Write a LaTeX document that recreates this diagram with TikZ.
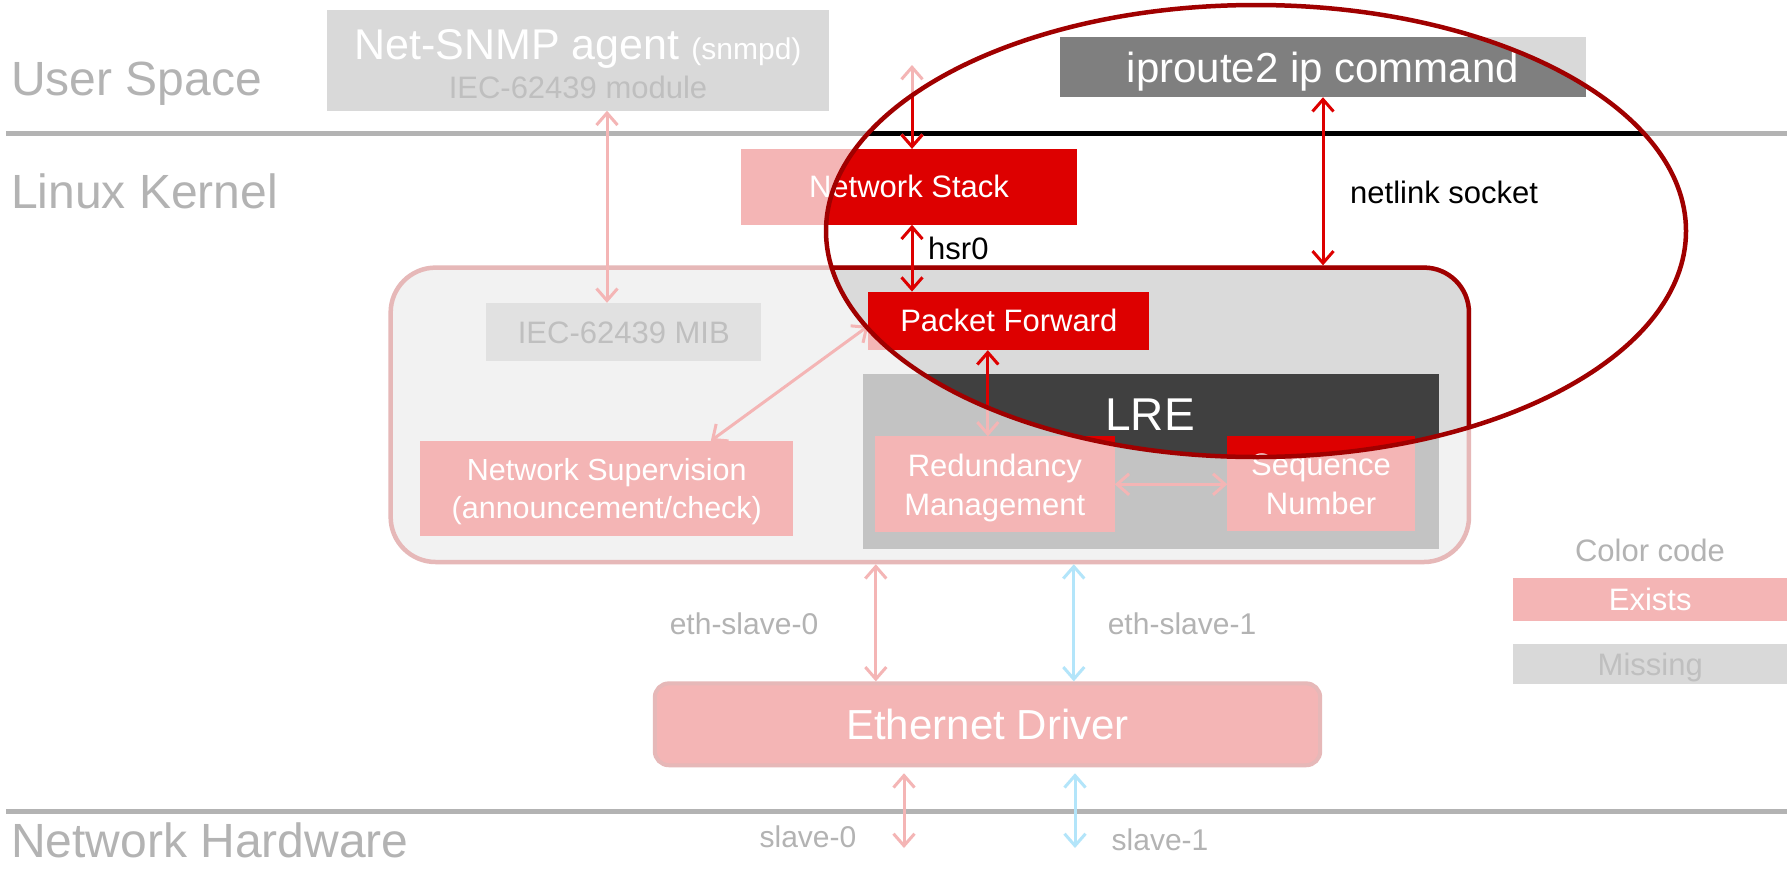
\documentclass[tikz,border=0pt]{standalone}
\usepackage{fontspec}
\setmainfont{Liberation Sans}
\usetikzlibrary{arrows.meta}
\pgfdeclarelayer{bglayer}
\pgfdeclarelayer{hllayer}
\pgfsetlayers{bglayer,hllayer,main}
\definecolor{cPink}{HTML}{F4B5B5}
\definecolor{cPinkB}{HTML}{E6B8B8}
\definecolor{cRed}{HTML}{DD0000}
\definecolor{cDRed}{HTML}{A00000}
\definecolor{cGrayTxt}{HTML}{B3B3B3}
\definecolor{cBoxGray}{HTML}{D9D9D9}
\definecolor{cMib}{HTML}{E1E1E1}
\definecolor{cMibTxt}{HTML}{BFBFBF}
\definecolor{cKern}{HTML}{F2F2F2}
\definecolor{cKernHL}{HTML}{DADADA}
\definecolor{cLre}{HTML}{C3C3C3}
\definecolor{cLreHL}{HTML}{404040}
\definecolor{cIpHL}{HTML}{7F7F7F}
\definecolor{cBlue}{HTML}{B3E5FA}
\newcommand\myfH{\fontsize{48}{56}\selectfont}
\newcommand\myfB{\fontsize{43}{50}\selectfont}
\newcommand\myfL{\fontsize{42}{50}\selectfont}
\newcommand\myfLRE{\fontsize{46}{54}\selectfont}
\newcommand\myfM{\fontsize{31}{39}\selectfont}
\newcommand\myfN{\fontsize{30.5}{38.5}\selectfont}
\newcommand\myfS{\fontsize{30}{36}\selectfont}
\begin{document}
\begin{tikzpicture}[x=1pt,y=-1pt,
  bx/.style={rectangle, inner sep=0pt, text=white},
  one/.style={font=\myfM, text height=22pt, text depth=0pt},
  onel/.style={font=\myfL, text height=30pt, text depth=0pt},
  two/.style={align=center, text depth=0pt},
  lblg/.style={inner sep=0pt, text=cGrayTxt},
  dbl/.style={line width=3pt, {Straight Barb[length=12pt,width=21pt]}-{Straight Barb[length=12pt,width=21pt]}},
  sep/.style={line width=5pt},
]
\useasboundingbox (0,0) rectangle (1787,868);

% ---------- box nodes ----------
\node[bx, minimum width=502pt, minimum height=100.5pt] (snmp) at (578,60.3) {};
\node[anchor=base, inner sep=0pt, text=white, font=\myfB] (snmpa) at (578,59) {Net-SNMP agent {\myfS(snmpd)}};
\node[anchor=base, inner sep=0pt, text=cMibTxt, font=\myfM] (snmpb) at (578,98) {IEC-62439 module};
\node[bx, onel, minimum width=526pt, minimum height=59.4pt] (iproute) at (1323,67.3) {iproute2 ip command};
\node[bx, one, minimum width=336pt, minimum height=75.5pt] (nstack) at (909,186.8) {Network Stack};
\node[bx, minimum width=1082.4pt, minimum height=298.5pt] (kern) at (929.8,414.8) {};
\node[bx, one, text=cMibTxt, minimum width=274.4pt, minimum height=58pt] (mib) at (623.8,332) {IEC-62439 MIB};
\node[bx, one, minimum width=280.5pt, minimum height=58.2pt] (pf) at (1008.8,320.9) {Packet Forward};
\node[bx, minimum width=575.7pt, minimum height=174.7pt] (lre) at (1150.6,461.2) {};
\node[anchor=base, inner sep=0pt, text=white, font=\myfLRE] (lret) at (1150,430) {LRE};
\node[bx, two, font=\myfM, minimum width=239.6pt, minimum height=95.5pt] (red) at (994.8,484.3) {Redundancy\\Management};
\node[bx, two, font=\myfM, minimum width=187pt, minimum height=94.5pt] (seq) at (1321,483.8) {Sequence\\Number};
\node[bx, two, font=\myfN, minimum width=372.5pt, minimum height=94.7pt] (nsup) at (606.8,488.4) {Network Supervision\\(announcement/check)};
\node[bx, onel, minimum width=669pt, minimum height=85.5pt] (eth) at (987.5,724.3) {Ethernet Driver};
\node[bx, one, minimum width=273.5pt, minimum height=43pt] (exists) at (1650.25,599.5) {Exists};
\node[bx, one, text=cMibTxt, minimum width=273.5pt, minimum height=40.5pt] (missing) at (1650.25,664) {Missing};

% ---------- labels ----------
\node[lblg, anchor=base west, font=\myfH] (us) at (11,95) {User Space};
\node[lblg, anchor=base west, font=\myfH] (lk) at (11,208) {Linux Kernel};
\node[lblg, anchor=base west, font=\myfH] (nh) at (11,857) {Network Hardware};
\node[lblg, anchor=base, font=\myfM] (cc) at (1650,561) {Color code};
\node[lblg, anchor=base, font=\myfS] (es0) at (744,634) {eth-slave-0};
\node[lblg, anchor=base, font=\myfS] (es1) at (1182,634) {eth-slave-1};
\node[lblg, anchor=base, font=\myfS] (s0) at (808,847) {slave-0};
\node[lblg, anchor=base, font=\myfS] (s1) at (1160,850) {slave-1};
\node[inner sep=0pt, anchor=base west, font=\myfM, text=black] (hsr) at (928,259) {hsr0};
\node[inner sep=0pt, anchor=base west, font=\myfM, text=black] (nl) at (1350,203) {netlink socket};

% ---------- coordinates ----------
\coordinate (hlc) at (1256,231);
\coordinate (sl1) at (6,133);
\coordinate (sr1) at (1787,133);
\coordinate (sl2) at (6,811.5);
\coordinate (sr2) at (1787,811.5);

% ---------- base fills ----------
\begin{pgfonlayer}{bglayer}
  \fill[white] (0,0) rectangle (1787,868);
  \draw[sep, cGrayTxt] (sl1) -- (sr1);
  \draw[sep, cGrayTxt] (sl2) -- (sr2);
  \fill[cBoxGray] (snmp.north west) rectangle (snmp.south east);
  \fill[cBoxGray] (iproute.north west) rectangle (iproute.south east);
  \fill[cPink] (nstack.north west) rectangle (nstack.south east);
  \filldraw[fill=cKern, draw=cPinkB, line width=4.5pt, rounded corners=45pt]
    ([shift={(2.25pt,-2.25pt)}]kern.north west) rectangle ([shift={(-2.25pt,2.25pt)}]kern.south east);
  \fill[cMib] (mib.north west) rectangle (mib.south east);
  \fill[cPink] (pf.north west) rectangle (pf.south east);
  \fill[cLre] (lre.north west) rectangle (lre.south east);
  \fill[cPink] (red.north west) rectangle (red.south east);
  \fill[cPink] (seq.north west) rectangle (seq.south east);
  \fill[cPink] (nsup.north west) rectangle (nsup.south east);
  \filldraw[fill=cPink, draw=cPinkB, line width=4pt, rounded corners=14pt]
    ([shift={(2pt,-2pt)}]eth.north west) rectangle ([shift={(-2pt,2pt)}]eth.south east);
  \fill[cPink] (exists.north west) rectangle (exists.south east);
  \fill[cBoxGray] (missing.north west) rectangle (missing.south east);
\end{pgfonlayer}

% ---------- highlighted fills (inside the ellipse) ----------
\begin{pgfonlayer}{hllayer}
  \begin{scope}
    \clip (hlc) ellipse [x radius=430pt, y radius=226pt];
    \draw[sep, black] (sl1) -- (sr1);
    \fill[cIpHL] (iproute.north west) rectangle (iproute.south east);
    \fill[cRed] (nstack.north west) rectangle (nstack.south east);
    \filldraw[fill=cKernHL, draw=cDRed, line width=4.5pt, rounded corners=45pt]
      ([shift={(2.25pt,-2.25pt)}]kern.north west) rectangle ([shift={(-2.25pt,2.25pt)}]kern.south east);
    \fill[cRed] (pf.north west) rectangle (pf.south east);
    \fill[cLreHL] (lre.north west) rectangle (lre.south east);
    \fill[cRed] (red.north west) rectangle (red.south east);
    \fill[cRed] (seq.north west) rectangle (seq.south east);
  \end{scope}
\end{pgfonlayer}

% ---------- connectors ----------
\coordinate (a1s) at ([xshift=29pt]snmp.south);
\draw[dbl, cPink] (a1s) -- (a1s |- mib.north);
\coordinate (a2s) at ([yshift=-5pt]pf.west);
\coordinate (a2e) at ([xshift=104pt]nsup.north);
\draw[dbl, cPink] (a2s) -- (a2e);
\coordinate (usr) at (912,65);
\draw[dbl, cPink] (usr) -- (usr |- nstack.north);
\coordinate (hs) at ([xshift=3pt]nstack.south);
\draw[dbl, cRed] (hs) -- (hs |- pf.north);
\draw[dbl, cRed] (iproute.south) -- (iproute.south |- kern.north);
\coordinate (pfd) at ([xshift=-21pt]pf.south);
\draw[dbl, cPink] (pfd) -- (pfd |- red.north);
\draw[dbl, cPink] (red.east) -- (red.east -| seq.west);
\coordinate (e0) at ([xshift=-54pt]kern.south);
\draw[dbl, cPink] (e0) -- (e0 |- eth.north);
\coordinate (e1) at ([xshift=144pt]kern.south);
\draw[dbl, cBlue] (e1) -- (e1 |- eth.north);
\coordinate (hw0) at (904,848);
\coordinate (hw1) at (1075,848);
\path (eth.south -| hw0) ++(0,6) coordinate (hw0t);
\path (eth.south -| hw1) ++(0,6) coordinate (hw1t);
\draw[dbl, cPink] (hw0t) -- (hw0);
\draw[dbl, cBlue] (hw1t) -- (hw1);

\begin{scope}
  \clip (hlc) ellipse [x radius=430pt, y radius=226pt];
  \draw[dbl, cRed] (usr) -- (usr |- nstack.north);
  \draw[dbl, cRed] (pfd) -- (pfd |- red.north);
\end{scope}

% ---------- highlight ellipse ----------
\draw[cDRed, line width=4.5pt] (hlc) ellipse [x radius=430pt, y radius=226pt];
\end{tikzpicture}
\end{document}
